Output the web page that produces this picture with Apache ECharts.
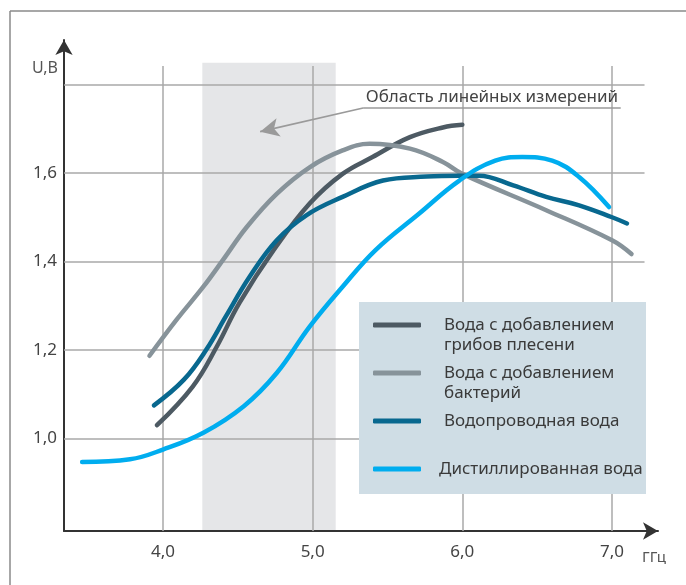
<!DOCTYPE html>
<html>
<head>
<meta charset="utf-8">
<script src="https://cdn.jsdelivr.net/npm/echarts@6/dist/echarts.min.js"></script>
<style>html,body{margin:0;padding:0;background:#fff}#c{width:686px;height:585px}</style>
</head>
<body>
<div id="c"></div>
<script>
// ---- data ----
const seriesNames = ['Вода с добавлением грибов плесени', 'Вода с добавлением бактерий', 'Водопроводная вода', 'Дистиллированная вода'];
const fungiX = [3.96, 4.20, 4.36, 4.51, 4.74, 4.98, 5.20, 5.40, 5.65, 5.87, 6.00];
const fungiY = [1.030, 1.118, 1.208, 1.306, 1.426, 1.531, 1.598, 1.636, 1.681, 1.703, 1.709];
const bactX = [3.91, 4.09, 4.27, 4.40, 4.56, 4.76, 4.98, 5.20, 5.38, 5.65, 5.87, 6.00, 6.56, 7.00, 7.13];
const bactY = [1.187, 1.268, 1.343, 1.403, 1.478, 1.553, 1.613, 1.651, 1.666, 1.655, 1.625, 1.598, 1.516, 1.448, 1.417];
const tapX = [3.94, 4.14, 4.29, 4.42, 4.58, 4.76, 4.96, 5.20, 5.47, 5.76, 5.98, 6.11, 6.34, 6.56, 6.78, 7.00, 7.10];
const tapY = [1.075, 1.133, 1.201, 1.276, 1.366, 1.448, 1.505, 1.546, 1.583, 1.592, 1.594, 1.594, 1.572, 1.546, 1.527, 1.500, 1.486];
const distX = [3.46, 3.78, 4.00, 4.27, 4.54, 4.76, 4.98, 5.20, 5.42, 5.71, 5.98, 6.22, 6.40, 6.60, 6.78, 6.98];
const distY = [0.947, 0.953, 0.975, 1.013, 1.073, 1.148, 1.253, 1.343, 1.426, 1.508, 1.583, 1.628, 1.636, 1.628, 1.591, 1.523];
const xTicks = [4.0, 5.0, 6.0, 7.0];
const yTicks = [1.0, 1.2, 1.4, 1.6, 1.8];
const yLabelTicks = [1.0, 1.2, 1.4, 1.6];
const bandRange = [4.263, 5.154];
const annotationText = 'Область линейных измерений';

// ---- layout constants ----
const X_MIN = 3.339, X_MAX = 7.307, Y_MIN = 0.791, Y_MAX = 1.9006;
const GRID_TOP_V = 1.842, GRID_RIGHT_V = 7.217, BAND_TOP_V = 1.849;
const colors = ['#4d5a63', '#87939a', '#08688f', '#00adef'];
const FONT = 'Noto Sans';

const pairs = (xs, ys) => xs.map((x, i) => [x, ys[i]]);
const fmt = v => v.toFixed(1).replace('.', ',');

const gridLines = [];
xTicks.forEach(v => gridLines.push([{coord: [v, Y_MIN]}, {coord: [v, GRID_TOP_V]}]));
yTicks.forEach(v => gridLines.push([{coord: [X_MIN, v]}, {coord: [GRID_RIGHT_V, v]}]));

const lineSeries = [[fungiX, fungiY], [bactX, bactY], [tapX, tapY], [distX, distY]].map((d, i) => ({
  name: seriesNames[i],
  type: 'line',
  data: pairs(d[0], d[1]),
  smooth: 0.4,
  showSymbol: false,
  symbol: 'none',
  z: 3,
  lineStyle: {color: colors[i], width: 4.5, cap: 'round', join: 'round'},
  itemStyle: {color: colors[i]}
}));

// each legend entry laid out as three lines; the middle one sits on the icon
const legendText = {
  'Вода с добавлением грибов плесени': '\nВода с добавлением\nгрибов плесени',
  'Вода с добавлением бактерий': '\nВода с добавлением\nбактерий',
  'Водопроводная вода': '\nВодопроводная вода\n',
  'Дистиллированная вода': '\nДистиллированная вода\n'
};

const option = {
  animation: false,
  grid: {left: 64, right: 686 - 658, top: 40, bottom: 585 - 531.5, containLabel: false},
  xAxis: {
    type: 'value', min: X_MIN, max: X_MAX,
    name: 'ГГц', nameLocation: 'end', nameGap: -16,
    nameTextStyle: {fontFamily: FONT, fontSize: 15, color: '#555', align: 'left', verticalAlign: 'top', lineHeight: 54},
    axisLine: {show: true, onZero: false, symbol: ['none', 'arrow'], symbolSize: [13, 15], lineStyle: {color: '#333', width: 2}},
    axisTick: {show: false},
    splitLine: {show: false},
    axisLabel: {customValues: xTicks, formatter: fmt, fontFamily: FONT, fontSize: 17, color: '#444', margin: 13, showMinLabel: true, showMaxLabel: true}
  },
  yAxis: {
    type: 'value', min: Y_MIN, max: Y_MAX,
    name: 'U,B', nameLocation: 'end', nameGap: -28,
    nameTextStyle: {fontFamily: FONT, fontSize: 16, color: '#555', align: 'right', verticalAlign: 'middle', padding: [0, 6, 0, 0]},
    axisLine: {show: true, onZero: false, symbol: ['none', 'arrow'], symbolSize: [13, 15], lineStyle: {color: '#333', width: 2}},
    axisTick: {show: false},
    splitLine: {show: false},
    axisLabel: {customValues: yLabelTicks, formatter: fmt, fontFamily: FONT, fontSize: 17, color: '#444', margin: 7}
  },
  legend: {
    show: true, orient: 'vertical', left: 373, top: 295, padding: 0,
    itemGap: -12, itemWidth: 48, itemHeight: 5, itemTextGap: 23, icon: 'roundRect',
    data: seriesNames.map((n, i) => ({name: n, textStyle: {padding: [0, 0, 0, i === 3 ? 13 : 18]}})),
    formatter: n => legendText[n],
    textStyle: {fontFamily: FONT, fontSize: 17, lineHeight: 20, color: '#3a3a3a'},
    z: 20
  },
  graphic: [
    {type: 'rect', shape: {x: 359, y: 302, width: 287, height: 192}, style: {fill: '#cfdde5'}, z: 15},
    {type: 'line', shape: {x1: 10, y1: 11, x2: 10, y2: 585}, style: {stroke: '#8a8a8a', lineWidth: 1.5}},
    {type: 'line', shape: {x1: 10, y1: 11, x2: 686, y2: 11}, style: {stroke: '#8a8a8a', lineWidth: 1.5}}
  ],
  series: [
    {
      name: 'grid', type: 'line', data: [], silent: true,
      markArea: {silent: true, itemStyle: {color: '#e5e6e8'}, data: [[{coord: [bandRange[0], Y_MIN]}, {coord: [bandRange[1], BAND_TOP_V]}]], z: 0},
      markLine: {
        silent: true, symbol: 'none', animation: false, z: 1,
        lineStyle: {color: '#a9a9a9', width: 1.5, type: 'solid'},
        label: {show: false},
        data: gridLines
      }
    },
    {
      name: 'annotation', type: 'line', data: [], silent: true,
      markLine: {
        silent: true, animation: false, z: 4,
        lineStyle: {color: '#9a9a9a', width: 1.6, type: 'solid'},
        data: [
          [{coord: [5.337, 1.747], symbol: 'none', label: {show: true, formatter: annotationText, position: 'insideMiddleTop', distance: 2, fontFamily: FONT, fontSize: 17, color: '#444'}},
           {coord: [7.058, 1.747], symbol: 'none'}],
          [{coord: [5.337, 1.747], symbol: 'none', label: {show: false}},
           {coord: [4.649, 1.6935], symbol: 'arrow', symbolSize: [14, 19], itemStyle: {color: '#999'}}]
        ]
      }
    },
    ...lineSeries
  ]
};
const chart = echarts.init(document.getElementById('c'), null, {renderer: 'canvas'});
chart.setOption(option);
</script>
</body>
</html>
